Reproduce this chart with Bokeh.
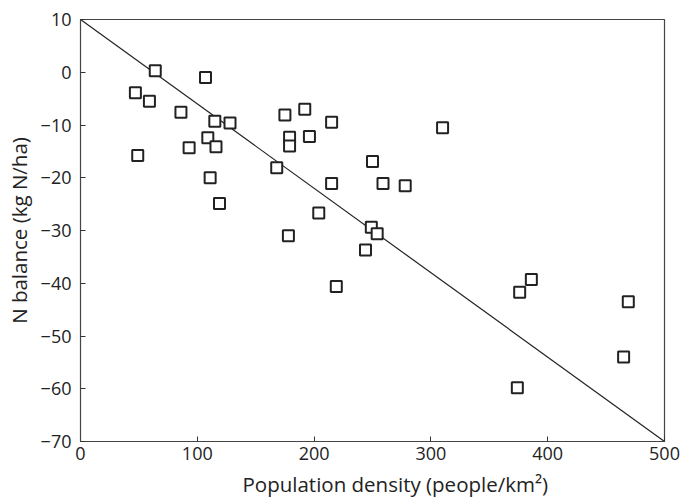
from bokeh.plotting import figure
from bokeh.models import Range1d, Title
from bokeh.embed import file_html
from bokeh.resources import INLINE

# Data
pop_density = [64, 107, 47, 59, 86, 115, 128, 109, 116, 93, 49, 111, 119,
               175, 192, 215, 179, 179, 196, 168, 215, 204, 178,
               310, 250, 259, 278, 249, 254, 244, 219,
               386, 376, 469, 465, 374]
n_balance = [0.3, -1.0, -3.9, -5.5, -7.6, -9.3, -9.6, -12.4, -14.1, -14.3, -15.8, -20.0, -24.9,
             -8.1, -7.0, -9.5, -12.3, -14.0, -12.2, -18.1, -21.1, -26.7, -31.0,
             -10.5, -16.9, -21.1, -21.5, -29.4, -30.6, -33.7, -40.6,
             -39.3, -41.7, -43.5, -54.0, -59.8]
line_x = [0, 500]
line_y = [10, -70]
x_ticks = [0, 100, 200, 300, 400, 500]
y_ticks = [10, 0, -10, -20, -30, -40, -50, -60, -70]

FONT = "Open Sans"
p = figure(width=683, height=502, output_backend="svg", toolbar_location=None,
           x_range=Range1d(0, 500), y_range=Range1d(-70, 10),
           min_border_left=80, min_border_right=19, min_border_top=19, min_border_bottom=61)
p.frame_width = 584
p.frame_height = 422

p.grid.visible = False
p.outline_line_color = "#444444"
p.outline_line_width = 1.2

p.line(line_x, line_y, line_color="#222222", line_width=1.2)
p.scatter(pop_density, n_balance, marker="square", size=11, fill_color="white",
          line_color="#222222", line_width=2)

for ax in (p.xaxis[0], p.yaxis[0]):
    ax.major_tick_in = 5
    ax.major_tick_out = 0
    ax.minor_tick_line_color = None
    ax.axis_line_color = "#444444"
    ax.major_tick_line_color = "#333333"
    ax.major_label_text_font = FONT
    ax.major_label_text_font_size = "18px"
    ax.major_label_text_color = "#222222"
    ax.axis_label_text_font = FONT
    ax.axis_label_text_font_size = "20.5px"
    ax.axis_label_text_font_style = "normal"
    ax.axis_label_text_color = "#222222"

p.xaxis.ticker = x_ticks
p.yaxis.ticker = y_ticks
p.yaxis.major_label_overrides = {t: (str(t).replace("-", "\u2212")) for t in y_ticks}
p.yaxis.axis_label = "N balance (kg N/ha)"
p.xaxis.major_label_standoff = 5
p.yaxis.major_label_standoff = 9
p.yaxis.axis_label_standoff = 5

xtitle = Title(text="Population density (people/km\u00b2)", align="left", offset=162,
               text_font=FONT, text_font_size="20.5px", text_font_style="normal",
               text_color="#222222", standoff=10)
p.add_layout(xtitle, "below")

open("out.html", "w").write(file_html(p, INLINE))
